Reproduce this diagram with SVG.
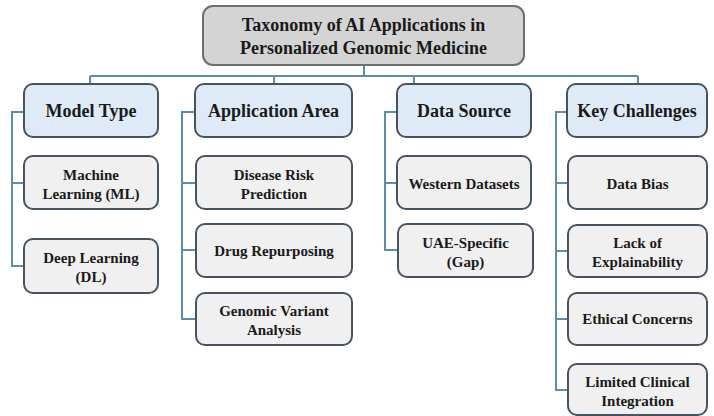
<svg xmlns="http://www.w3.org/2000/svg" width="714" height="416" viewBox="0 0 714 416">
<style>
.t{font-family:"Liberation Serif","Times New Roman",serif;font-weight:bold;fill:#1a1a1a;text-anchor:middle}
.t18{font-size:18px}
.t15{font-size:15px}
.root{fill:#d4d4d4;stroke:#6e6e6e;stroke-width:2}
.cat{fill:#deebf7;stroke:#47545f;stroke-width:2}
.leaf{fill:#f0f0f0;stroke:#47545f;stroke-width:2}
.c{fill:none;stroke:#5a8ea9;stroke-width:2}
</style>
<rect width="714" height="416" fill="#ffffff"/>
<g id="connectors">
<path class="c" d="M364 65V76M90 76H638M90 76V84M274 76V84M414 76V84M638 76V84"/>
<path class="c" d="M24 112H12V266H24M12 183H24"/>
<path class="c" d="M195 112H182V319H196M182 183H196M182 250H196"/>
<path class="c" d="M397 112H385V250H398M385 183H397"/>
<path class="c" d="M567 112H556V390H568M556 183H568M556 251H568M556 319H568"/>
</g>
<g id="root"><rect class="root" x="203" y="6" width="321" height="59" rx="10"/>
<text class="t t18" x="363.5" y="31">Taxonomy of AI Applications in</text>
<text class="t t18" x="363.5" y="54">Personalized Genomic Medicine</text></g>
<g id="model-type"><rect class="cat" x="24" y="84" width="134" height="53" rx="9"/><text class="t t18" x="91" y="117">Model Type</text></g>
<g id="application-area"><rect class="cat" x="195" y="84" width="157" height="53" rx="9"/><text class="t t18" x="273.5" y="117">Application Area</text></g>
<g id="data-source"><rect class="cat" x="397" y="84" width="134" height="53" rx="9"/><text class="t t18" x="464" y="117">Data Source</text></g>
<g id="key-challenges"><rect class="cat" x="567" y="84" width="140" height="53" rx="9"/><text class="t t18" x="637" y="117">Key Challenges</text></g>
<g id="ml"><rect class="leaf" x="24" y="156" width="134" height="53" rx="9"/><text class="t t15" x="91" y="180">Machine</text><text class="t t15" x="91" y="199">Learning (ML)</text></g>
<g id="dl"><rect class="leaf" x="24" y="239" width="134" height="54" rx="9"/><text class="t t15" x="91" y="263">Deep Learning</text><text class="t t15" x="91" y="282">(DL)</text></g>
<g id="disease-risk"><rect class="leaf" x="196" y="156" width="156" height="53" rx="9"/><text class="t t15" x="274" y="180">Disease Risk</text><text class="t t15" x="274" y="199">Prediction</text></g>
<g id="drug-repurposing"><rect class="leaf" x="196" y="224" width="156" height="53" rx="9"/><text class="t t15" x="274" y="256">Drug Repurposing</text></g>
<g id="genomic-variant"><rect class="leaf" x="196" y="293" width="156" height="52" rx="9"/><text class="t t15" x="274" y="316">Genomic Variant</text><text class="t t15" x="274" y="335">Analysis</text></g>
<g id="western"><rect class="leaf" x="397" y="156" width="134" height="53" rx="9"/><text class="t t15" x="464" y="189">Western Datasets</text></g>
<g id="uae"><rect class="leaf" x="398" y="224" width="135" height="53" rx="9"/><text class="t t15" x="465.5" y="248">UAE-Specific</text><text class="t t15" x="465.5" y="267">(Gap)</text></g>
<g id="data-bias"><rect class="leaf" x="568" y="156" width="139" height="53" rx="9"/><text class="t t15" x="637.5" y="189">Data Bias</text></g>
<g id="explainability"><rect class="leaf" x="568" y="225" width="139" height="52" rx="9"/><text class="t t15" x="637.5" y="248">Lack of</text><text class="t t15" x="637.5" y="267">Explainability</text></g>
<g id="ethical"><rect class="leaf" x="568" y="293" width="139" height="52" rx="9"/><text class="t t15" x="637.5" y="324">Ethical Concerns</text></g>
<g id="clinical"><rect class="leaf" x="568" y="364" width="139" height="51" rx="9"/><text class="t t15" x="637.5" y="387">Limited Clinical</text><text class="t t15" x="637.5" y="406">Integration</text></g>
</svg>
